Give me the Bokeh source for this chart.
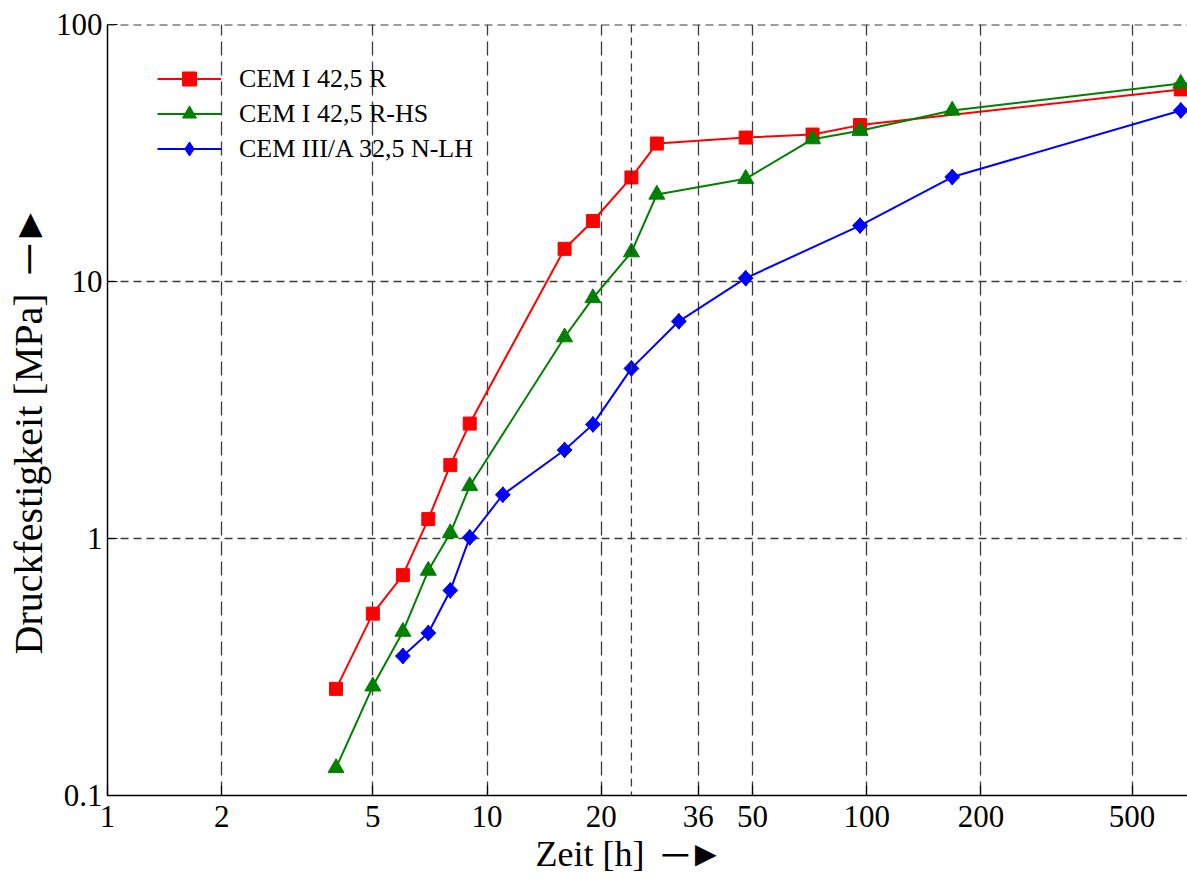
import math
from bokeh.plotting import figure
from bokeh.models import (FixedTicker, BasicTickFormatter, Legend, LegendItem, Span, Range1d)
from bokeh.embed import file_html
from bokeh.resources import INLINE

# ---------------- data ----------------
hours_r = [4, 5, 6, 7, 8, 9, 16, 19, 24, 28, 48, 72, 96, 672]
cem1_r = [0.26, 0.51, 0.72, 1.19, 1.93, 2.80, 13.4, 17.2, 25.4, 34.4, 36.3, 37.3, 40.6, 55.9]

hours_hs = [4, 5, 6, 7, 8, 9, 16, 19, 24, 28, 48, 72, 96, 168, 672]
cem1_hs = [0.128, 0.266, 0.434, 0.75, 1.05, 1.60, 6.07, 8.62, 13.0, 21.8, 25.1, 35.8, 38.6, 46.3, 58.9]

hours_lh = [6, 7, 8, 9, 11, 16, 19, 24, 32, 48, 96, 168, 672]
cem3_lh = [0.349, 0.429, 0.628, 1.01, 1.48, 2.21, 2.78, 4.59, 7.0, 10.3, 16.5, 25.5, 46.3]

series_names = ["CEM I 42,5 R", "CEM I 42,5 R-HS", "CEM III/A 32,5 N-LH"]
x_ticks = [1, 2, 5, 10, 20, 36, 50, 100, 200, 500]
extra_grid_hours = [24]
y_ticks = [0.1, 1, 10, 100]
x_title = "Zeit [h]"
y_title = "Druckfestigkeit [MPa]"

# ---------------- layout ----------------
W, H = 1187, 879
L, T, R, B = 107, 24, 0, 84
XMIN, XMAX = 1, 700
YMIN, YMAX = 0.1, 100
FONT = "Liberation Serif"
NB = "\u00a0"
ARROW = "\u2500\u25ba"

p = figure(width=W, height=H, x_axis_type="log", y_axis_type="log",
           x_range=Range1d(XMIN, XMAX), y_range=Range1d(YMIN, YMAX),
           output_backend="svg", toolbar_location=None,
           min_border_left=L, min_border_right=R, min_border_top=T, min_border_bottom=B)
p.outline_line_color = None
p.background_fill_color = "white"
p.border_fill_color = "white"

# axes
for ax in (p.xaxis[0], p.yaxis[0]):
    ax.axis_line_color = "black"
    ax.axis_line_width = 1.5
    ax.major_tick_in = 10
    ax.major_tick_out = 0
    ax.major_tick_line_color = "black"
    ax.major_tick_line_width = 1.2
    ax.minor_tick_line_color = None
    ax.major_label_text_font = FONT
    ax.major_label_text_font_size = "31px"
    ax.major_label_text_color = "black"
    ax.formatter = BasicTickFormatter()
    ax.axis_label_text_font = FONT
    ax.axis_label_text_font_style = "normal"
    ax.axis_label_text_color = "black"

p.xaxis.axis_label_text_font_size = "36px"
p.yaxis.axis_label_text_font_size = "40px"
p.xaxis.ticker = FixedTicker(ticks=x_ticks)
p.yaxis.ticker = FixedTicker(ticks=y_ticks)
p.xaxis.major_label_standoff = 10
p.yaxis.major_label_standoff = 5
p.xaxis.axis_label = x_title + NB * 2 + ARROW + NB * 4
p.yaxis.axis_label = y_title + NB * 2 + ARROW + NB * 4
p.xaxis.axis_label_standoff = 4
p.yaxis.axis_label_standoff = 2

# grids
p.xgrid.ticker = FixedTicker(ticks=x_ticks)
p.ygrid.ticker = FixedTicker(ticks=y_ticks)
p.xgrid.grid_line_color = "#3a3a3a"
p.xgrid.grid_line_width = 1.3
p.xgrid.grid_line_dash = "14 6"
p.ygrid.grid_line_color = "#3a3a3a"
p.ygrid.grid_line_width = 1.3
p.ygrid.grid_line_dash = "8 5"

for h in extra_grid_hours:
    p.add_layout(Span(location=h, dimension="height", line_color="#3a3a3a",
                      line_width=1.3, line_dash="8 5"))
p.add_layout(Span(location=YMAX, dimension="width", line_color="#3a3a3a",
                  line_width=2, line_dash="8 5"))

# series
colors = ["#ff0000", "#008000", "#0000ff"]

items = []
# CEM I 42,5 R
ln = p.line(hours_r, cem1_r, line_color=colors[0], line_width=2)
sc = p.scatter(hours_r, cem1_r, marker="square", size=13, fill_color=colors[0], line_color=colors[0])
items.append(LegendItem(label=series_names[0], renderers=[ln, sc]))
# CEM I 42,5 R-HS
ln = p.line(hours_hs, cem1_hs, line_color=colors[1], line_width=2)
sc = p.scatter(hours_hs, cem1_hs, marker="triangle", size=16, fill_color=colors[1], line_color=colors[1])
items.append(LegendItem(label=series_names[1], renderers=[ln, sc]))
# CEM III/A 32,5 N-LH  (diamond drawn as rotated square, legend uses the inner diamond)
ln = p.line(hours_lh, cem3_lh, line_color=colors[2], line_width=2)
dm = p.scatter(hours_lh, cem3_lh, marker="diamond", size=16, fill_color=colors[2], line_color=colors[2])
sq = p.scatter(hours_lh, cem3_lh, marker="square", size=10.5, angle=math.pi / 4,
               fill_color=colors[2], line_color=colors[2])
items.append(LegendItem(label=series_names[2], renderers=[ln, dm]))

legend = Legend(items=items, location=(50, 629), orientation="vertical",
                glyph_width=64, glyph_height=35, label_height=35,
                label_standoff=18, spacing=0, padding=0, margin=0,
                label_text_font=FONT, label_text_font_size="26px",
                label_text_color="black",
                background_fill_alpha=0, border_line_color=None)
p.add_layout(legend)

open("out.html", "w").write(file_html(p, INLINE))
